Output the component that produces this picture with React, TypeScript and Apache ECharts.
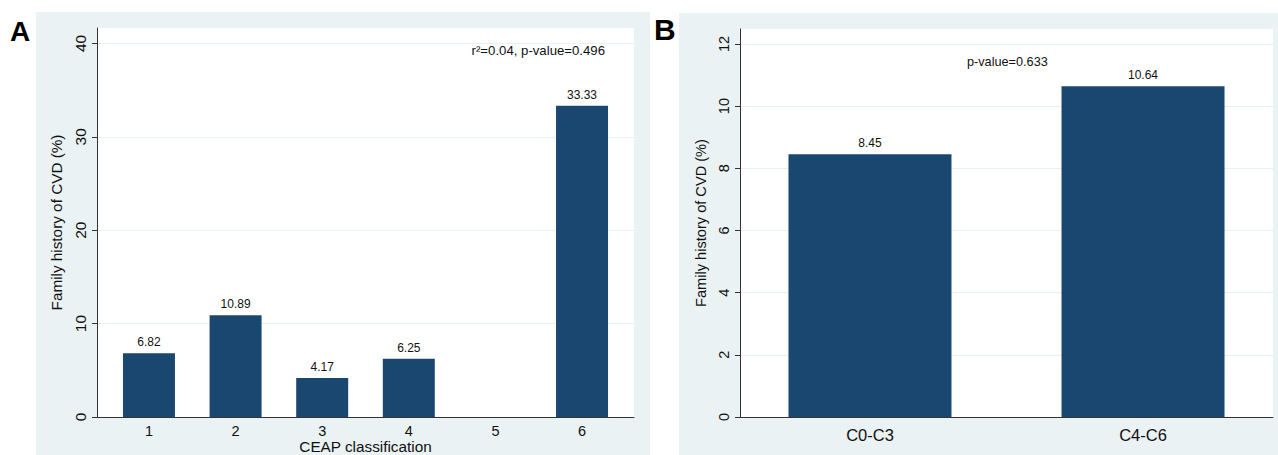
import React, { useEffect, useRef } from "react";
import * as echarts from "echarts";

const ceapCategories = ["1", "2", "3", "4", "5", "6"];
const ceapValues: (number | null)[] = [6.82, 10.89, 4.17, 6.25, null, 33.33];
const ceapTicks = [0, 10, 20, 30, 40];

const groupCategories = ["C0-C3", "C4-C6"];
const groupValues = [8.45, 10.64];
const groupTicks = [0, 2, 4, 6, 8, 10, 12];

const annotationA = "r²=0.04, p-value=0.496";
const annotationB = "p-value=0.633";

const NAVY = "#1a476f";
const BG = "#eaf2f3";
const AXIS = "#333333";
const FONT = "'Liberation Sans', Arial, Helvetica, sans-serif";
const TXT = "#111111";

export default function App() {
  const ref = useRef<HTMLDivElement>(null);

  useEffect(() => {
    if (!ref.current) return;
    const chart = echarts.init(ref.current, undefined, { renderer: "svg" });

    const dataA = ceapValues
      .map((v, i) => (v == null ? null : [i + 1, v]))
      .filter((d) => d !== null) as number[][];
    const dataB = groupValues.map((v, i) => [i + 1, v]);

    const xAxisCommon = {
      type: "value" as const,
      splitLine: { show: false },
      axisTick: { show: false },
      axisLine: { show: true, onZero: false, lineStyle: { color: AXIS, width: 1 } },
    };
    const yAxisCommon = {
      type: "value" as const,
      min: 0,
      axisLine: { show: true, onZero: false, lineStyle: { color: AXIS, width: 1 } },
      splitLine: { show: true, lineStyle: { color: "#e9f0f2", width: 1 } },
      nameLocation: "middle" as const,
      nameRotate: 90,
    };

    const labelStyle = {
      show: true,
      position: "top" as const,
      distance: 5,
      fontSize: 12,
      fontFamily: FONT,
      color: TXT,
      formatter: (p: any) => Number(p.value[1]).toFixed(2),
    };

    chart.setOption({
      animation: false,
      textStyle: { fontFamily: FONT },
      graphic: [
        { type: "rect", z: -10, shape: { x: 36, y: 12, width: 614, height: 443 }, style: { fill: BG } },
        { type: "rect", z: -10, shape: { x: 679, y: 13, width: 599, height: 442 }, style: { fill: BG } },
        {
          type: "text",
          x: 10,
          y: 31,
          style: { text: "A", fontSize: 28, fontWeight: "bold", fontFamily: FONT, fill: "#000", textVerticalAlign: "middle" },
        },
        {
          type: "text",
          x: 654,
          y: 29,
          style: { text: "B", fontSize: 30, fontWeight: "bold", fontFamily: FONT, fill: "#000", textVerticalAlign: "middle" },
        },
        {
          type: "text",
          x: 605,
          y: 50,
          z: 10,
          style: { text: annotationA, fontSize: 13.2, fontFamily: FONT, fill: TXT, textAlign: "right", textVerticalAlign: "middle" },
        },
        {
          type: "text",
          x: 967,
          y: 62,
          z: 10,
          style: { text: annotationB, fontSize: 12.7, fontFamily: FONT, fill: TXT, textAlign: "left", textVerticalAlign: "middle" },
        },
      ],
      grid: [
        { left: 97, top: 28, width: 537, height: 389, show: true, backgroundColor: "#ffffff", borderWidth: 0, outerBoundsMode: "none", containLabel: false },
        { left: 740, top: 29, width: 533, height: 388, show: true, backgroundColor: "#ffffff", borderWidth: 0, outerBoundsMode: "none", containLabel: false },
      ],
      xAxis: [
        {
          ...xAxisCommon,
          gridIndex: 0,
          min: 0.4,
          max: 6.6,
          axisLabel: {
            customValues: ceapCategories.map((_, i) => i + 1),
            formatter: (v: number) => ceapCategories[Math.round(v) - 1] ?? "",
            fontSize: 14.5,
            color: TXT,
            margin: 6,
            fontFamily: FONT,
          },
          name: "CEAP classification",
          nameLocation: "middle",
          nameGap: 22,
          nameMoveOverlap: false,
          nameTextStyle: { fontSize: 15.3, color: TXT, fontFamily: FONT },
        },
        {
          ...xAxisCommon,
          gridIndex: 1,
          min: 0.524,
          max: 2.476,
          axisLabel: {
            customValues: groupCategories.map((_, i) => i + 1),
            formatter: (v: number) => groupCategories[Math.round(v) - 1] ?? "",
            fontSize: 16.5,
            color: TXT,
            margin: 9,
            fontFamily: FONT,
          },
        },
      ],
      yAxis: [
        {
          ...yAxisCommon,
          gridIndex: 0,
          max: 41.65,
          interval: 10,
          axisTick: { show: true, length: 5, customValues: ceapTicks, lineStyle: { color: AXIS } },
          axisLabel: {
            customValues: ceapTicks,
            rotate: 90,
            fontSize: 15.5,
            color: TXT,
            margin: 9,
            fontFamily: FONT,
            formatter: (v: number) => (ceapTicks.includes(v) ? String(v) : ""),
          },
          name: "Family history of CVD (%)",
          nameGap: 33,
          nameTextStyle: { fontSize: 15.3, color: TXT, fontFamily: FONT },
        },
        {
          ...yAxisCommon,
          gridIndex: 1,
          max: 12.48,
          interval: 2,
          axisTick: { show: true, length: 5, customValues: groupTicks, lineStyle: { color: AXIS } },
          axisLabel: {
            customValues: groupTicks,
            rotate: 90,
            fontSize: 14.5,
            color: TXT,
            margin: 9,
            fontFamily: FONT,
            formatter: (v: number) => (groupTicks.includes(v) ? String(v) : ""),
          },
          name: "Family history of CVD (%)",
          nameGap: 32,
          nameTextStyle: { fontSize: 14.6, color: TXT, fontFamily: FONT },
        },
      ],
      series: [
        {
          type: "bar",
          xAxisIndex: 0,
          yAxisIndex: 0,
          data: dataA,
          barWidth: 52,
          itemStyle: { color: NAVY },
          label: labelStyle,
        },
        {
          type: "bar",
          xAxisIndex: 1,
          yAxisIndex: 1,
          data: dataB,
          barWidth: 163,
          itemStyle: { color: NAVY },
          label: labelStyle,
        },
      ],
    });

    return () => chart.dispose();
  }, []);

  return (
    <div
      ref={ref}
      style={{ position: "absolute", left: 0, top: 0, width: 1278, height: 455, background: "#ffffff" }}
    />
  );
}
